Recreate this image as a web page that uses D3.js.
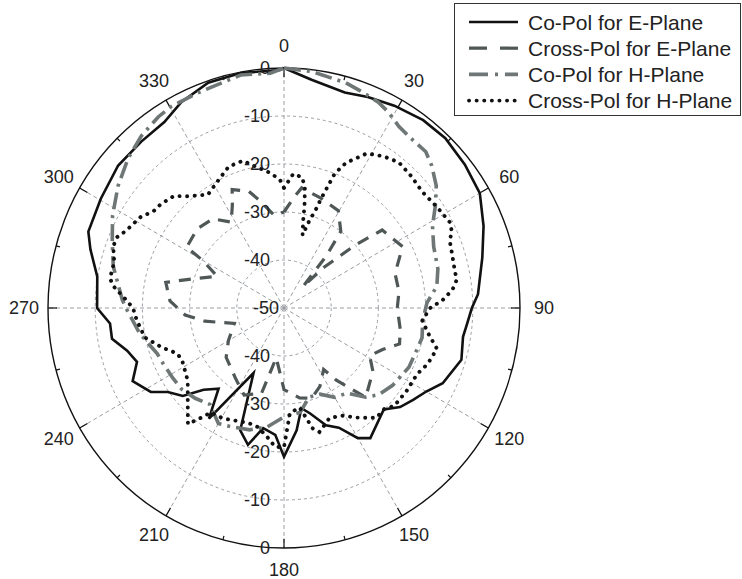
<!DOCTYPE html>
<html>
<head>
<meta charset="utf-8">
<script src="https://cdn.jsdelivr.net/npm/d3@7"></script>
<style>
  body { margin: 0; background: #fff; }
  text { font-family: "Liberation Sans", Arial, sans-serif; fill: #222; }
</style>
</head>
<body>
<script>
// [angle in degrees, level in dB]
var coPolE = [[0,0],[7,-2.1],[16,-3.3],[22,-2.6],[29,-1.8],[37,-1.0],[44,-0.8],[52,-1.4],[60,-2.1],
  [68,-4.4],[76,-6.7],[86,-8.8],[90,-10.2],[95,-11.1],[99,-11.6],[106,-10.9],[115,-12.9],[120,-15.2],
  [125,-16.6],[130,-17.9],[135,-20.1],[146,-17.3],[150,-18.7],[155,-22.5],[160,-24],[166,-27.4],
  [170,-28.8],[174,-24.4],[180,-19],[184,-23.5],[190,-24.6],[195,-20.5],[200,-22.9],[205.5,-35],
  [214.6,-22],[219.5,-28.2],[225,-25.9],[229.5,-21.8],[234.6,-19.8],[238.2,-16.8],[244.6,-14.5],
  [250.2,-16.9],[255,-15.6],[260,-13],[265,-13],[270,-10.4],[279.4,-9.9],[286.6,-7.2],[291,-5.6],
  [300.4,-5],[310.2,-4],[318.9,-4],[326.8,-3.7],[333.1,-1.9],[341.1,-0.4],[349.4,-0.2],[359,-0.4],[360,0]];

var crossPolE = [[0,-30],[5,-27],[8.5,-24.7],[18.6,-25.8],[29.6,-26.7],[37,-30],[39.6,-36],[42,-44],
  [45,-38],[49,-30],[52,-23.6],[63,-21.8],[73,-25.4],[82,-25.4],[90,-26],[100,-25],[107,-24.4],
  [112.5,-27.4],[118.7,-29.3],[125,-27],[137,-24.6],[143.6,-31.3],[146.7,-34.7],[155,-32],
  [162.7,-30.3],[170,-31],[180,-33],[189,-39.5],[195,-31.6],[205,-30],[215,-32.1],[230,-34],
  [240,-36.4],[253,-39],[260.7,-33],[266,-29],[273.5,-25.8],[282,-24.4],[287.8,-30],[295,-34.4],
  [300,-30],[301.5,-25.8],[312,-25.3],[321,-26.1],[328,-28.9],[333,-25.9],[336,-23],[343,-24.6],
  [347.5,-27.3],[354,-30.6],[360,-30]];

var coPolH = [[0,0],[7,-0.4],[15.6,-1.3],[20,-2],[25,-2.7],[28.5,-3.6],[32.7,-5],[37.5,-5.6],
  [42.7,-5.7],[46.6,-6.9],[51.7,-8.9],[56.4,-11.5],[61.5,-14.2],[68,-15.8],[76,-16.4],[82,-17.3],
  [88,-19.7],[95,-20.5],[102,-20.1],[108,-20.6],[115,-20.8],[125,-21.9],[132,-23],[137,-24.6],
  [143,-27.8],[150,-28.5],[157,-30.5],[164,-30.7],[171,-28],[180,-27.3],[188,-25],[196,-23.6],
  [204,-22.9],[210,-22.2],[218,-24.5],[225,-23.4],[232,-22.5],[238,-22.3],[245.6,-21.9],
  [250.5,-21.5],[260,-19],[269.4,-16.7],[272.8,-15.7],[283.5,-12.8],[290.7,-11.1],[297.9,-8.9],
  [305.9,-6.6],[313.3,-4.6],[319.9,-3.1],[326.2,-2.1],[330.4,-1.7],[338,-1.6],[349.3,-0.6],
  [356.6,-1],[360,0]];

var crossPolH = [[0,-25],[4,-22],[8,-22.5],[10,-24.5],[11.5,-28.2],[12.5,-31.2],[14.5,-34.3],
  [16.5,-30.9],[18,-28.9],[19,-26],[21,-20],[23.5,-17],[28.6,-13.3],[33.8,-12],[38.7,-11.1],
  [44.3,-11.5],[50.4,-12],[56.6,-11.4],[62.9,-10.6],[65.7,-11],[68.3,-12.2],[71.9,-12.6],
  [78.4,-13],[80.8,-12.9],[83.9,-14.1],[87.1,-16.3],[90,-19],[95,-20.6],[99.8,-19],[104.7,-16.5],
  [110.9,-17.4],[115.9,-18.6],[123.7,-18.8],[131.1,-19],[134.7,-20.1],[139.5,-19.9],[145.8,-22.4],
  [151.5,-24.5],[157.3,-25.1],[163.8,-23.1],[166.4,-24.2],[170.9,-29],[176.7,-28.1],[180,-21],
  [183.7,-21],[187.5,-22.9],[192.8,-24.6],[197.4,-24.9],[209.4,-23.6],[215.4,-23.3],[217.6,-21.1],
  [220.1,-18.4],[225.9,-21.6],[233.4,-24.6],[243,-25.8],[247.2,-25.5],[252.3,-22.9],[258.2,-19.9],
  [265.3,-18.7],[270,-18],[272.9,-16.5],[277,-13.7],[279.5,-12.6],[284.8,-12.8],[289.6,-11.6],
  [292.7,-11.7],[295.5,-12.8],[302,-14.2],[306.2,-15.8],[309.7,-16.1],[315,-17],[319.1,-19.2],
  [325.7,-21.4],[332.7,-19.9],[338.3,-18.3],[344.1,-18.1],[349.5,-20.3],[354.1,-21.7],
  [358.2,-23.3],[360,-25]];

var ringTicks = [0, -10, -20, -30, -40, -50];
var angleTicks = [0, 30, 60, 90, 120, 150, 180, 210, 240, 270, 300, 330];
var seriesNames = ['Co-Pol for E-Plane', 'Cross-Pol for E-Plane', 'Co-Pol for H-Plane', 'Cross-Pol for H-Plane'];

var width = 742, height = 579;
var cx = 284, cy = 308, RX = 236, RY = 240;

var svg = d3.select('body').append('svg')
  .attr('width', width)
  .attr('height', height);

// scales
var rScaleX = d3.scaleLinear().domain([-50, 0]).range([0, RX]);
var rScaleY = d3.scaleLinear().domain([-50, 0]).range([0, RY]);
var aScale = d3.scaleLinear().domain([0, 360]).range([0, 2 * Math.PI]);

function px(a, v) { return cx + rScaleX(v) * Math.sin(aScale(a)); }
function py(a, v) { return cy - rScaleY(v) * Math.cos(aScale(a)); }

var grid = svg.append('g');

// dashed rings
ringTicks.filter(d => d > -50 && d < 0).forEach(function(t) {
  grid.append('ellipse')
    .attr('cx', cx).attr('cy', cy)
    .attr('rx', rScaleX(t)).attr('ry', rScaleY(t))
    .attr('fill', 'none')
    .attr('stroke', '#9a9ea3')
    .attr('stroke-width', 1)
    .attr('stroke-dasharray', '3,3');
});

// spokes
angleTicks.forEach(function(a) {
  grid.append('line')
    .attr('x1', cx).attr('y1', cy)
    .attr('x2', px(a, 0)).attr('y2', py(a, 0))
    .attr('stroke', '#9a9ea3')
    .attr('stroke-width', 1)
    .attr('stroke-dasharray', '4,3');
});

// outer ring
grid.append('ellipse')
  .attr('cx', cx).attr('cy', cy)
  .attr('rx', RX).attr('ry', RY)
  .attr('fill', 'none')
  .attr('stroke', '#111')
  .attr('stroke-width', 1.4);

// ticks on the outer ring
d3.range(0, 360, 15).forEach(function(a) {
  var len = a % 30 === 0 ? 9 : 4;
  var v2 = -50 * len / RX;
  grid.append('line')
    .attr('x1', px(a, 0)).attr('y1', py(a, 0))
    .attr('x2', px(a, v2)).attr('y2', py(a, v2))
    .attr('stroke', '#111')
    .attr('stroke-width', 1.2);
});

// angle labels
angleTicks.forEach(function(a) {
  var t = aScale(a);
  svg.append('text')
    .attr('x', cx + (RX + 24) * Math.sin(t))
    .attr('y', cy - (RY + 22) * Math.cos(t))
    .attr('text-anchor', 'middle')
    .attr('dominant-baseline', 'central')
    .style('font-size', '18px')
    .text(a);
});

// series
var line = d3.line()
  .x(d => px(d[0], d[1]))
  .y(d => py(d[0], d[1]));

var styles = [
  {data: coPolE, color: '#111', w: 2.6, dash: null, cap: 'butt'},
  {data: crossPolE, color: '#4f5757', w: 3.2, dash: '12,9', cap: 'butt'},
  {data: coPolH, color: '#6f7676', w: 3.6, dash: '17,6,3,6', cap: 'butt'},
  {data: crossPolH, color: '#111', w: 3.9, dash: '0.1,7.5', cap: 'round'}
];

var g = svg.append('g');
styles.forEach(function(s) {
  g.append('path')
    .datum(s.data)
    .attr('d', line)
    .attr('fill', 'none')
    .attr('stroke', s.color)
    .attr('stroke-width', s.w)
    .attr('stroke-linecap', s.cap)
    .attr('stroke-linejoin', 'miter')
    .attr('stroke-dasharray', s.dash);
});

// ring labels, top and bottom
ringTicks.forEach(function(t) {
  svg.append('text')
    .attr('x', t === -50 ? cx - 5 : cx - 14)
    .attr('y', py(0, t))
    .attr('text-anchor', 'end')
    .attr('dominant-baseline', 'central')
    .style('font-size', '18px')
    .text(t);
  if (t > -50) {
    svg.append('text')
      .attr('x', cx - 14)
      .attr('y', py(180, t))
      .attr('text-anchor', 'end')
      .attr('dominant-baseline', 'central')
      .style('font-size', '18px')
      .text(t);
  }
});

// legend
var lg = svg.append('g');
lg.append('rect')
  .attr('x', 454.5).attr('y', 3.5)
  .attr('width', 286).attr('height', 112)
  .attr('fill', '#fff')
  .attr('stroke', '#333')
  .attr('stroke-width', 1);

seriesNames.forEach(function(name, i) {
  var y = 22 + i * 26.2;
  var s = styles[i];
  lg.append('line')
    .attr('x1', 469).attr('x2', 518)
    .attr('y1', y).attr('y2', y)
    .attr('stroke', s.color)
    .attr('stroke-width', s.w)
    .attr('stroke-linecap', s.cap)
    .attr('stroke-dasharray', i === 1 ? '18,13' : i === 2 ? '19,7,3,7' : s.dash);
  lg.append('text')
    .attr('x', 528).attr('y', y)
    .attr('dominant-baseline', 'central')
    .style('font-size', '21px')
    .text(name);
});
</script>
</body>
</html>
